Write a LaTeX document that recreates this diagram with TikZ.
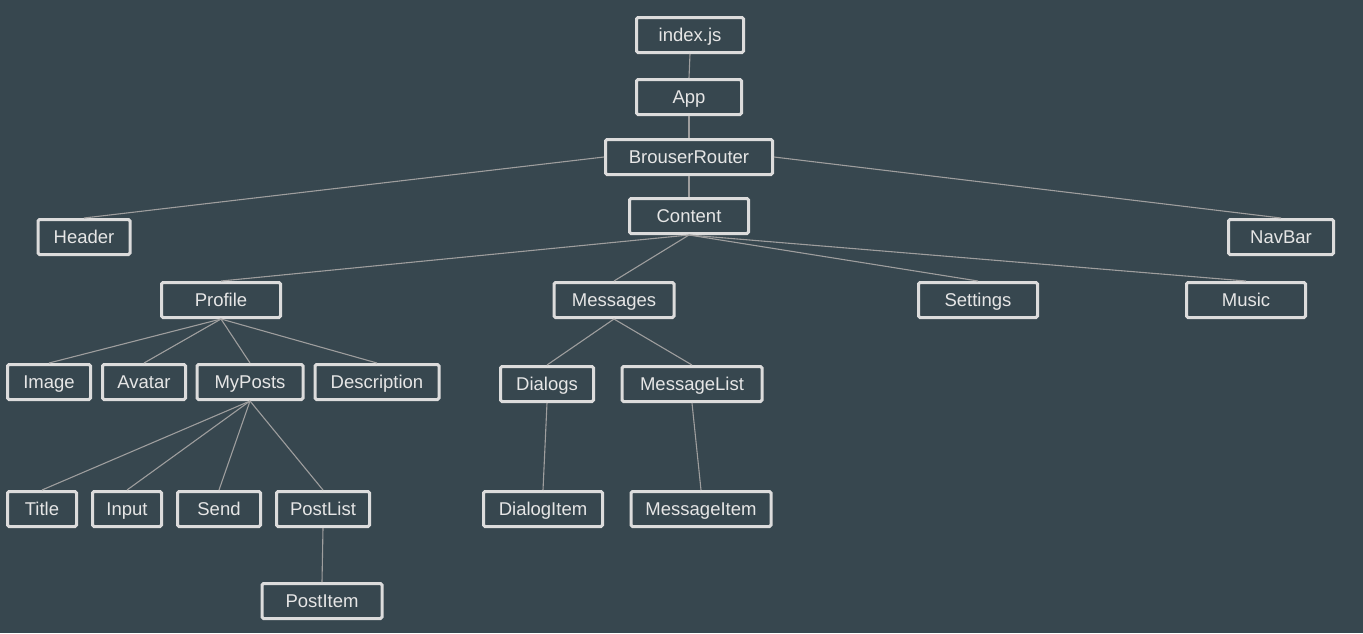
\documentclass[tikz,border=0pt]{standalone}
\usepackage{fontspec}
\setmainfont{Liberation Sans}
\usepackage{tikz}
\definecolor{fondo}{HTML}{37474F}
\definecolor{borde}{HTML}{DCDCDC}
\definecolor{linea}{HTML}{9E9E9E}
\definecolor{texto}{HTML}{E6E6E6}
\tikzset{
	x=1pt, y=-1pt, % Coordenadas en pixeles
	caja/.style={draw=borde, line width=3pt, rounded corners=1.5pt, text=texto, inner sep=0pt,
		minimum height=35pt, text height=13pt, text depth=0pt,
		font=\fontsize{18.5}{22}\selectfont}, % Propiedades de los nodos
	every edge/.style={draw=linea, line width=1.1pt} % Propiedades de los arcos
}

\begin{document}
\begin{tikzpicture}
	\fill[fondo] (0,0) rectangle (1363,633);
	\node[caja, minimum width=107pt] (index) at (690,35) {index.js};
	\node[caja, minimum width=105pt] (app) at (689,97) {App};
	\node[caja, minimum width=167pt] (router) at (689,157) {BrouserRouter};
	\node[caja, minimum width=119pt] (content) at (689,216) {Content};
	\node[caja, minimum width=92pt] (header) at (84,237) {Header};
	\node[caja, minimum width=105pt] (navbar) at (1281,237) {NavBar};
	\node[caja, minimum width=119pt] (profile) at (221,300) {Profile};
	\node[caja, minimum width=120pt] (messages) at (614,300) {Messages};
	\node[caja, minimum width=119pt] (settings) at (978,300) {Settings};
	\node[caja, minimum width=119pt] (music) at (1246,300) {Music};
	\node[caja, minimum width=83pt] (image) at (49,382) {Image};
	\node[caja, minimum width=83pt] (avatar) at (144,382) {Avatar};
	\node[caja, minimum width=106pt] (myposts) at (250,382) {MyPosts};
	\node[caja, minimum width=124pt] (description) at (377,382) {Description};
	\node[caja, minimum width=93pt] (dialogs) at (547,384) {Dialogs};
	\node[caja, minimum width=140pt] (messagelist) at (692,384) {MessageList};
	\node[caja, minimum width=69pt] (title) at (42,509) {Title};
	\node[caja, minimum width=69pt] (input) at (127,509) {Input};
	\node[caja, minimum width=83pt] (send) at (219,509) {Send};
	\node[caja, minimum width=93pt] (postlist) at (323,509) {PostList};
	\node[caja, minimum width=119pt] (dialogitem) at (543,509) {DialogItem};
	\node[caja, minimum width=140pt] (messageitem) at (701,509) {MessageItem};
	\node[caja, minimum width=120pt] (postitem) at (322,601) {PostItem};
	\draw	(index.south) edge (app.north)
			(app.south) edge (router.north)
			(router.south) edge (content.north)
			(router.west) edge (header.north)
			(router.east) edge (navbar.north)
			
			(content.south) edge (profile.north)
			(content.south) edge (messages.north)
			(content.south) edge (settings.north)
			(content.south) edge (music.north)
			
			(profile.south) edge (image.north)
			(profile.south) edge (avatar.north)
			(profile.south) edge (myposts.north)
			(profile.south) edge (description.north)
			(myposts.south) edge (title.north)
			(myposts.south) edge (input.north)
			(myposts.south) edge (send.north)
			(myposts.south) edge (postlist.north)
			(postlist.south) edge (postitem.north)
			
			(messages.south) edge (dialogs.north)
			(messages.south) edge (messagelist.north)
			(dialogs.south) edge (dialogitem.north)
			(messagelist.south) edge (messageitem.north);
\end{tikzpicture}
\end{document}
